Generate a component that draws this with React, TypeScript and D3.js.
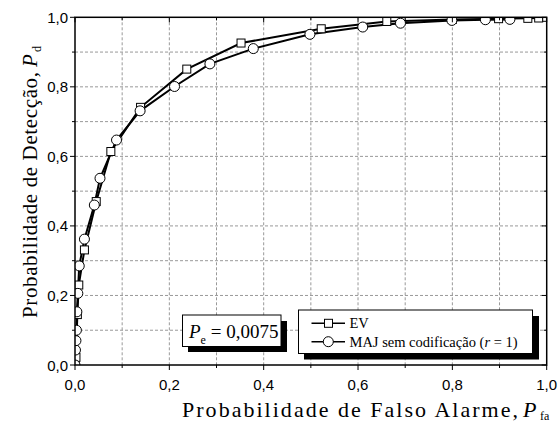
import React from "react";
import * as d3 from "d3";

const evPfa = [0, 0.002, 0.005, 0.008, 0.02, 0.045, 0.076, 0.139, 0.237, 0.352, 0.522, 0.661, 0.8, 0.898, 0.96, 0.983, 1.0];
const evPd = [0, 0.022, 0.145, 0.23, 0.331, 0.47, 0.614, 0.741, 0.851, 0.926, 0.967, 0.988, 0.994, 0.996, 0.997, 0.998, 1.0];

const majPfa = [0, 0.001, 0.002, 0.003, 0.004, 0.006, 0.009, 0.02, 0.041, 0.053, 0.088, 0.138, 0.211, 0.286, 0.378, 0.498, 0.61, 0.69, 0.799, 0.87, 0.922];
const majPd = [0, 0.043, 0.07, 0.1, 0.153, 0.206, 0.285, 0.362, 0.46, 0.537, 0.647, 0.731, 0.801, 0.866, 0.91, 0.951, 0.972, 0.983, 0.991, 0.993, 0.994];

const majorTicks = [0, 0.2, 0.4, 0.6, 0.8, 1.0];
const gridTicks = [0.1, 0.2, 0.3, 0.4, 0.5, 0.6, 0.7, 0.8, 0.9];
const minorTicks = [0.1, 0.3, 0.5, 0.7, 0.9];
const tickLabels = ["0,0", "0,2", "0,4", "0,6", "0,8", "1,0"];

const legendLabels = ["EV", "MAJ sem codificação ("];
const xTitle = "Probabilidade de Falso Alarme,";
const yTitle = "Probabilidade de Detecção,";

export default function App() {
  const L = 75, R = 546.7, T = 17.3, B = 365;
  const x = d3.scaleLinear().domain([0, 1]).range([L, R]);
  const y = d3.scaleLinear().domain([0, 1]).range([B, T]);
  const ev = evPfa.map((v, i) => [v, evPd[i]] as [number, number]);
  const maj = majPfa.map((v, i) => [v, majPd[i]] as [number, number]);
  const line = d3.line<[number, number]>().x(d => x(d[0])).y(d => y(d[1]));
  const sans = { fontFamily: '"Liberation Sans", Arial, sans-serif' };
  const serif = { fontFamily: '"Liberation Serif", "DejaVu Serif", "Times New Roman", serif' };

  return (
    <svg width={558} height={423} style={{ position: "absolute", left: 0, top: 0, background: "#fff" }}>
      <defs>
        <clipPath id="plotclip">
          <rect x={L} y={T} width={R - L} height={B - T} />
        </clipPath>
      </defs>
      {gridTicks.map(t => (
        <g key={"g" + t} stroke="#999" strokeWidth={1} strokeDasharray="3,2">
          <line x1={x(t)} x2={x(t)} y1={T} y2={B} />
          <line x1={L} x2={R} y1={y(t)} y2={y(t)} />
        </g>
      ))}
      <g clipPath="url(#plotclip)">
        <path d={line(ev) || ""} fill="none" stroke="#000" strokeWidth={2} />
        <path d={line(maj) || ""} fill="none" stroke="#000" strokeWidth={2} />
        {ev.map((d, i) => (
          <rect key={"s" + i} x={x(d[0]) - 4} y={y(d[1]) - 4} width={8} height={8} fill="#fff" stroke="#000" strokeWidth={1} />
        ))}
        {maj.map((d, i) => (
          <circle key={"c" + i} cx={x(d[0])} cy={y(d[1])} r={5} fill="#fff" stroke="#000" strokeWidth={1} />
        ))}
      </g>
      <rect x={L} y={T} width={R - L} height={B - T} fill="none" stroke="#000" strokeWidth={1.5} />
      {majorTicks.map(t => (
        <g key={"mt" + t} stroke="#000" strokeWidth={1}>
          <line x1={x(t)} x2={x(t)} y1={B} y2={B + 5} />
          <line x1={x(t)} x2={x(t)} y1={T} y2={T + 5} />
          <line x1={L} x2={L - 5} y1={y(t)} y2={y(t)} />
          <line x1={R} x2={R - 5} y1={y(t)} y2={y(t)} />
        </g>
      ))}
      {minorTicks.map(t => (
        <g key={"nt" + t} stroke="#000" strokeWidth={1}>
          <line x1={x(t)} x2={x(t)} y1={B} y2={B + 3} />
          <line x1={x(t)} x2={x(t)} y1={T} y2={T + 3} />
          <line x1={L} x2={L - 3} y1={y(t)} y2={y(t)} />
          <line x1={R} x2={R - 3} y1={y(t)} y2={y(t)} />
        </g>
      ))}
      {majorTicks.map((t, i) => (
        <text key={"xl" + t} x={x(t)} y={390} textAnchor="middle" style={sans} fontSize={15}>{tickLabels[i]}</text>
      ))}
      {majorTicks.map((t, i) => (
        <text key={"yl" + t} x={68} y={y(t) + 5.5} textAnchor="end" style={sans} fontSize={15}>{tickLabels[i]}</text>
      ))}
      {/* x title */}
      <text x={182} y={417} style={serif} fontSize={22} textLength={336} lengthAdjust="spacing">{xTitle}</text>
      <text x={523} y={417} style={serif} fontSize={22} fontStyle="italic">P</text>
      <text x={540} y={420} style={serif} fontSize={12}>fa</text>
      {/* y title */}
      <g transform="translate(37,318) rotate(-90)">
        <text x={0} y={0} style={serif} fontSize={21} textLength={246} lengthAdjust="spacing">{yTitle}</text>
        <text x={251} y={0} style={serif} fontSize={21} fontStyle="italic">P</text>
        <text x={266} y={4} style={serif} fontSize={12}>d</text>
      </g>
      {/* Pe box */}
      <rect x={188} y={321} width={99} height={31} fill="#000" />
      <rect x={182.5} y={315} width={98.5} height={31.5} fill="#fff" stroke="#000" strokeWidth={1} />
      <text x={189} y={338} style={serif} fontSize={19}>
        <tspan fontStyle="italic">P</tspan>
        <tspan fontSize={12} dy={6}>e</tspan>
        <tspan dy={-6}> = 0,0075</tspan>
      </text>
      {/* legend */}
      <rect x={304} y={316} width={235} height={43.5} fill="#000" />
      <rect x={298.5} y={310} width={234} height={43.5} fill="#fff" stroke="#000" strokeWidth={1} />
      <line x1={311.5} x2={345} y1={323.3} y2={323.3} stroke="#000" strokeWidth={1.5} />
      <rect x={324.5} y={319.3} width={8} height={8} fill="#fff" stroke="#000" />
      <text x={349.5} y={328} style={serif} fontSize={14.5}>{legendLabels[0]}</text>
      <line x1={311.5} x2={345} y1={341.7} y2={341.7} stroke="#000" strokeWidth={1.5} />
      <circle cx={328.3} cy={341.7} r={5} fill="#fff" stroke="#000" />
      <text x={349.5} y={346.5} style={serif} fontSize={14.5}>
        {legendLabels[1]}<tspan fontStyle="italic">r</tspan> =  1)
      </text>
    </svg>
  );
}
